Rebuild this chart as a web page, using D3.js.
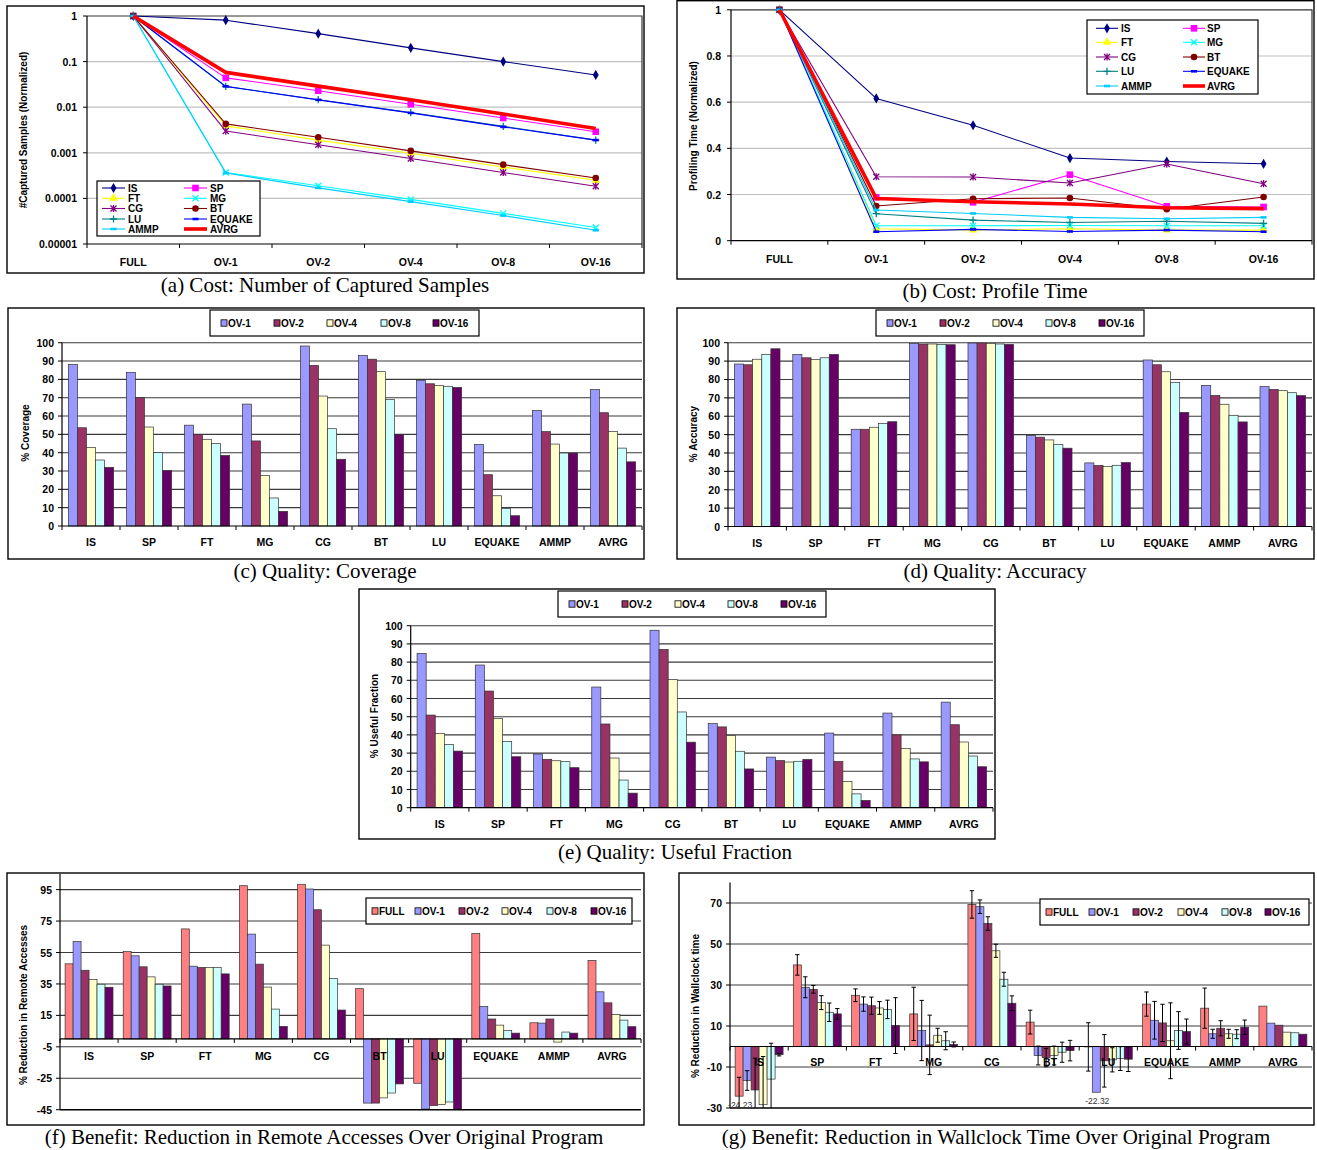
<!DOCTYPE html>
<html>
<head>
<meta charset="utf-8">
<script src="https://cdn.jsdelivr.net/npm/d3@7/dist/d3.min.js"></script>
<style>
  body { margin: 0; background: #fff; }
  svg text { font-family: "Liberation Sans", Arial, sans-serif; }
</style>
</head>
<body>
<script>
// ================= DATA =================
const stages = ["FULL", "OV-1", "OV-2", "OV-4", "OV-8", "OV-16"];
const benchmarks = ["IS", "SP", "FT", "MG", "CG", "BT", "LU", "EQUAKE", "AMMP", "AVRG"];
const ovLevels = ["OV-1", "OV-2", "OV-4", "OV-8", "OV-16"];
const benefitLevels = ["FULL", "OV-1", "OV-2", "OV-4", "OV-8", "OV-16"];

// (a) captured samples (normalized), rows = benchmarks, cols = stages
const capturedSamples = [
  [1, 0.81, 0.41, 0.2, 0.1, 0.051],
  [1, 0.044, 0.023, 0.0116, 0.0058, 0.0029],
  [1, 0.0039, 0.0019, 0.00098, 0.00049, 0.00025],
  [1, 0.00037, 0.00019, 0.000095, 0.000047, 0.000023],
  [1, 0.003, 0.0015, 0.00075, 0.00037, 0.000185],
  [1, 0.0043, 0.0022, 0.0011, 0.00055, 0.00028],
  [1, 0.0285, 0.0146, 0.0076, 0.0038, 0.0019],
  [1, 0.0286, 0.0145, 0.0075, 0.0037, 0.0019],
  [1, 0.00036, 0.00017, 0.000085, 0.000042, 0.00002],
  [1, 0.058, 0.029, 0.0145, 0.0071, 0.0034]
];
const sampleTickValues = [1, 0.1, 0.01, 0.001, 0.0001, 0.00001];
const sampleTickLabels = ["1", "0.1", "0.01", "0.001", "0.0001", "0.00001"];

// (b) profiling time (normalized)
const profileTime = [
  [1, 0.616, 0.50, 0.358, 0.343, 0.333],
  [1, 0.188, 0.166, 0.286, 0.149, 0.146],
  [1, 0.052, 0.046, 0.052, 0.046, 0.046],
  [1, 0.065, 0.065, 0.066, 0.065, 0.065],
  [1, 0.277, 0.276, 0.25, 0.332, 0.247],
  [1, 0.15, 0.182, 0.185, 0.136, 0.189],
  [1, 0.117, 0.089, 0.079, 0.084, 0.075],
  [1, 0.039, 0.049, 0.04, 0.046, 0.039],
  [1, 0.133, 0.118, 0.101, 0.095, 0.101],
  [1, 0.183, 0.169, 0.159, 0.143, 0.139]
];
const profileTickValues = [0, 0.2, 0.4, 0.6, 0.8, 1];
const profileTickLabels = ["0", "0.2", "0.4", "0.6", "0.8", "1"];

// (c) coverage %, rows = benchmarks, cols = ovLevels
const coverage = [
  [88.2, 53.6, 42.9, 36, 32],
  [83.8, 70, 54, 40, 30.2],
  [55, 50, 47.3, 45, 38.5],
  [66.5, 46.4, 27.6, 15.3, 8],
  [98.2, 87.6, 70.9, 53.1, 36.4],
  [93, 91, 84.2, 69, 50],
  [79.5, 77.6, 76.7, 76.2, 75.6],
  [44.5, 28, 16.5, 9.6, 5.6],
  [63, 51.5, 44.7, 39.8, 39.8],
  [74.4, 61.8, 51.5, 42.5, 35]
];
// (d) accuracy %
const accuracy = [
  [88.4, 88, 91, 93.5, 96.7],
  [93.6, 91.8, 90.8, 91.8, 93.6],
  [52.9, 52.9, 54, 56, 57],
  [99.6, 99.3, 99.3, 99.1, 98.9],
  [99.8, 99.8, 99.6, 99.3, 99.1],
  [49.5, 48.6, 47.1, 44.7, 42.6],
  [34.6, 33.2, 32.6, 33.3, 34.8],
  [90.6, 88, 84.2, 78.3, 62.1],
  [76.8, 71.3, 66.5, 60.5, 56.9],
  [76.1, 74.6, 73.9, 72.8, 71.2]
];
// (e) useful fraction %
const usefulFraction = [
  [84.8, 50.9, 40.8, 34.8, 31.1],
  [78.4, 64.1, 49.1, 36.4, 28],
  [29.5, 26.6, 25.8, 25.3, 22],
  [66.3, 46, 27.3, 15.2, 8],
  [97.5, 87, 70.4, 52.6, 36],
  [46.2, 44.4, 39.6, 31, 21.3],
  [27.8, 25.9, 25.1, 25.5, 26.5],
  [41, 25.4, 14.4, 7.6, 4],
  [52, 40, 32.6, 26.8, 25.2],
  [58, 45.6, 36.1, 28.4, 22.5]
];
const pctTickValues = [0, 10, 20, 30, 40, 50, 60, 70, 80, 90, 100];

// (f) reduction in remote accesses %, cols = benefitLevels
const remoteReduction = [
  [47.8, 62, 43.7, 37.8, 34.8, 32.9],
  [55.6, 52.9, 45.9, 39.5, 34.8, 33.7],
  [70, 46.3, 45.5, 45.5, 45.5, 41.4],
  [97.5, 66.7, 47.6, 33, 19, 8],
  [98.4, 95.4, 82.2, 59.7, 38.4, 18.4],
  [32, -40.8, -40.8, -37.5, -34.4, -28.6],
  [-28.2, -44.6, -42.4, -41.6, -40.1, -44.6],
  [67, 20.7, 12.7, 8.8, 5.4, 3.7],
  [10.3, 10.1, 12.7, -2, 4.4, 3.7],
  [50, 30, 23, 15.6, 12, 7.8]
];
const remoteTickValues = [-45, -25, -5, 15, 35, 55, 75, 95];

// (g) reduction in wallclock time %, with error bars
const wallclockReduction = [
  [-24.23, -16.6, -21.2, -28.4, -15.9, -4.0],
  [39.8, 28.9, 27.9, 21.4, 16.7, 15.9],
  [25, 20.7, 19.9, 18.8, 18.1, 10.2],
  [15.9, 7.8, 0.8, 5.5, 2.8, 1.0],
  [69.3, 68.2, 60, 46.7, 32.8, 21.1],
  [11.9, -4.4, -5.4, -4.4, -2.8, -2.0],
  [-0.2, -22.32, -7, -6.5, -5.9, -6.2],
  [20.7, 12.8, 11.5, 2.8, 7.8, 7.3],
  [18.7, 6.2, 8.9, 6.2, 6.0, 9.4],
  [19.7, 11.4, 10.4, 7.0, 6.7, 6.0]
];
const wallclockError = [
  [9.2, 4.8, 15.5, 23.5, 17.5, 0.6],
  [5, 5.1, 1.9, 3.4, 4.5, 2.6],
  [3.1, 3.5, 4.2, 3.1, 4.5, 13.6],
  [13, 14.7, 14.5, 3.4, 4.4, 1.2],
  [6.7, 3.3, 3.3, 3.2, 3.4, 3.6],
  [5.8, 4.6, 4.5, 4.6, 4.9, 5.0],
  [11.8, 0, 12.8, 5.9, 5.8, 6.0],
  [5.9, 9.2, 9.1, 18.5, 9.2, 6.1],
  [9.8, 2.2, 3.7, 2.2, 2.2, 3.5],
  [0, 0, 0, 0, 0, 0]
];
const wallclockTickValues = [-30, -10, 10, 30, 50, 70];
const wallclockLabelled = [["IS", "FULL"], ["LU", "OV-1"]];

// ================= STYLES =================
const lineColors = ["#000080", "#FF00FF", "#FFFF00", "#00FFFF", "#800080", "#800000", "#008080", "#0000FF", "#00CCFF", "#FF0000"];
const lineMarkers = ["diamond", "square", "triangle", "x", "star", "circle", "plus", "dash", "dash", "none"];
const levelColors = { "FULL": "#FF8080", "OV-1": "#9999FF", "OV-2": "#993366", "OV-4": "#FFFFCC", "OV-8": "#CCFFFF", "OV-16": "#660066" };
const SERIF = '"Liberation Serif", "Times New Roman", serif';
const fmt2 = d3.formatLocale({ decimal: ".", thousands: ",", grouping: [3], currency: ["", ""], minus: "-" }).format(".2f");

const svg = d3.select("body").append("svg").attr("width", 1317).attr("height", 1150);

function frame(x0, y0, x1, y1) {
  svg.append("rect").attr("x", x0).attr("y", y0).attr("width", x1 - x0).attr("height", y1 - y0)
    .attr("fill", "none").attr("stroke", "#000").attr("stroke-width", 1.4);
}
function caption(text, x, y) {
  svg.append("text").attr("x", x).attr("y", y).attr("text-anchor", "middle").attr("dominant-baseline", "central")
    .style("font-family", SERIF).attr("font-size", 21).text(text);
}
function yTitle(text, x, y) {
  svg.append("text").attr("transform", `translate(${x},${y}) rotate(-90)`).attr("text-anchor", "middle")
    .attr("dominant-baseline", "central").attr("font-weight", "bold").attr("font-size", 10).text(text);
}
function label(g, text, x, y, anchor, size) {
  return g.append("text").attr("x", x).attr("y", y).attr("text-anchor", anchor).attr("dominant-baseline", "central")
    .attr("font-weight", "bold").attr("font-size", size || 10.5).text(text);
}

function drawMarker(g, type, cx, cy, color) {
  const t = `translate(${cx},${cy})`;
  if (type === "diamond") g.append("path").attr("d", d3.symbol(d3.symbolDiamond, 30)()).attr("transform", t).attr("fill", color);
  else if (type === "square") g.append("rect").attr("x", cx - 3.3).attr("y", cy - 3.3).attr("width", 6.6).attr("height", 6.6).attr("fill", color);
  else if (type === "triangle") g.append("path").attr("d", d3.symbol(d3.symbolTriangle, 32)()).attr("transform", t).attr("fill", color);
  else if (type === "x") g.append("path").attr("d", "M-3,-3L3,3M-3,3L3,-3").attr("transform", t).attr("stroke", color).attr("stroke-width", 1.3);
  else if (type === "star") g.append("path").attr("d", "M-3,-3L3,3M-3,3L3,-3M0,-3.6V3.6").attr("transform", t).attr("stroke", color).attr("stroke-width", 1.3);
  else if (type === "circle") g.append("circle").attr("cx", cx).attr("cy", cy).attr("r", 3.3).attr("fill", color);
  else if (type === "plus") g.append("path").attr("d", "M-3.6,0H3.6M0,-3.6V3.6").attr("transform", t).attr("stroke", color).attr("stroke-width", 1.3);
  else if (type === "dash") g.append("rect").attr("x", cx - 3).attr("y", cy - 1.3).attr("width", 6).attr("height", 2.6).attr("fill", color);
}

// ================= LINE CHART =================
function lineChart(c) {
  const g = svg.append("g");
  const x = d3.scaleBand().domain(stages).range([c.x0, c.x1]);
  const y = c.y;
  const yb = y.range()[0], yt = y.range()[1];
  c.tickValues.forEach(v => {
    const yy = y(v);
    if (Math.abs(yy - yb) < 0.5 || Math.abs(yy - yt) < 0.5) return;
    g.append("line").attr("x1", c.x0).attr("x2", c.x1).attr("y1", yy).attr("y2", yy).attr("stroke", "#c0c0c0").attr("stroke-width", 1.2);
  });
  g.append("path").attr("d", `M${c.x0},${yt}H${c.x1}V${yb}`).attr("fill", "none").attr("stroke", "#333").attr("stroke-width", 1.2);
  // axes
  g.append("line").attr("x1", c.x0).attr("x2", c.x0).attr("y1", yt).attr("y2", yb).attr("stroke", "#000").attr("stroke-width", 1.2);
  g.append("line").attr("x1", c.x0).attr("x2", c.x1).attr("y1", yb).attr("y2", yb).attr("stroke", "#000").attr("stroke-width", 1.2);
  c.tickValues.forEach((v, i) => {
    g.append("line").attr("x1", c.x0 - 4).attr("x2", c.x0).attr("y1", y(v)).attr("y2", y(v)).attr("stroke", "#000");
    label(g, c.tickLabels[i], c.x0 - 10, y(v), "end");
  });
  stages.forEach((s, i) => {
    g.append("line").attr("x1", x(s)).attr("x2", x(s)).attr("y1", yb).attr("y2", yb + 4).attr("stroke", "#000");
    label(g, s, x(s) + x.bandwidth() / 2, yb + c.labelDy, "middle");
  });
  g.append("line").attr("x1", c.x1).attr("x2", c.x1).attr("y1", yb).attr("y2", yb + 4).attr("stroke", "#000");
  // series
  const line = d3.line().x((d, i) => x(stages[i]) + x.bandwidth() / 2).y(d => y(d));
  c.data.forEach((row, k) => {
    const isAvg = benchmarks[k] === "AVRG";
    g.append("path").attr("d", line(row)).attr("fill", "none").attr("stroke", lineColors[k])
      .attr("stroke-width", isAvg ? 3.6 : 1.1).attr("stroke-linejoin", "round");
    row.forEach((v, i) => drawMarker(g, lineMarkers[k], x(stages[i]) + x.bandwidth() / 2, y(v), lineColors[k]));
  });
  // legend
  const L = c.legend;
  g.append("rect").attr("x", L.x0).attr("y", L.y0).attr("width", L.x1 - L.x0).attr("height", L.y1 - L.y0)
    .attr("fill", "#fff").attr("stroke", "#000").attr("stroke-width", 1.2);
  benchmarks.forEach((b, k) => {
    const col = k % 2, row = Math.floor(k / 2);
    const lx = L.lineX[col], ly = L.rowY[row];
    g.append("line").attr("x1", lx).attr("x2", lx + L.len).attr("y1", ly).attr("y2", ly).attr("stroke", lineColors[k])
      .attr("stroke-width", b === "AVRG" ? 3.6 : 1.1);
    drawMarker(g, lineMarkers[k], lx + L.len / 2, ly, lineColors[k]);
    label(g, b, L.textX[col], ly, "start", 10);
  });
}

// ================= BAR CHART =================
function barChart(c) {
  const g = svg.append("g");
  const x = d3.scaleBand().domain(benchmarks).range([c.x0, c.x1]);
  const xi = d3.scaleBand().domain(c.series).range([0, x.bandwidth()]).paddingOuter(c.pad);
  const y = d3.scaleLinear().domain(c.domain).range([c.yb, c.yt]);
  const y0 = y(0);
  c.grid.forEach(v => {
    g.append("line").attr("x1", c.x0).attr("x2", c.x1).attr("y1", y(v)).attr("y2", y(v))
      .attr("stroke", c.gridColor || "#3a3a3a").attr("stroke-width", c.gridWidth || 1.1);
  });
  // bars
  c.values.forEach((row, i) => {
    row.forEach((v, j) => {
      const s = c.series[j];
      g.append("rect").attr("x", x(benchmarks[i]) + xi(s)).attr("width", xi.bandwidth())
        .attr("y", Math.min(y(v), y0)).attr("height", Math.abs(y(v) - y0))
        .attr("fill", levelColors[s]).attr("stroke", "#333").attr("stroke-width", 0.7);
    });
  });
  // error bars
  if (c.errors) {
    const [lo, hi] = [c.yt, c.yb];
    c.values.forEach((row, i) => {
      row.forEach((v, j) => {
        const e = c.errors[i][j];
        if (!e) return;
        const cx = x(benchmarks[i]) + xi(c.series[j]) + xi.bandwidth() / 2;
        const ya = Math.max(lo, y(v + e)), yb2 = Math.min(hi, y(v - e));
        g.append("line").attr("x1", cx).attr("x2", cx).attr("y1", ya).attr("y2", yb2).attr("stroke", "#000").attr("stroke-width", 1);
        if (y(v + e) >= lo) g.append("line").attr("x1", cx - 2.2).attr("x2", cx + 2.2).attr("y1", ya).attr("y2", ya).attr("stroke", "#000").attr("stroke-width", 1);
        if (y(v - e) <= hi) g.append("line").attr("x1", cx - 2.2).attr("x2", cx + 2.2).attr("y1", yb2).attr("y2", yb2).attr("stroke", "#000").attr("stroke-width", 1);
      });
    });
  }
  // bottom line (if zero is not the bottom)
  if (Math.abs(y0 - c.yb) > 1) {
    g.append("line").attr("x1", c.x0).attr("x2", c.x1).attr("y1", c.yb).attr("y2", c.yb).attr("stroke", "#000").attr("stroke-width", 1.4);
  }
  // zero axis
  g.append("line").attr("x1", c.x0).attr("x2", c.x1).attr("y1", y0).attr("y2", y0).attr("stroke", "#000").attr("stroke-width", 1.2);
  benchmarks.forEach(b => {
    g.append("line").attr("x1", x(b)).attr("x2", x(b)).attr("y1", y0).attr("y2", y0 + 4).attr("stroke", "#000");
  });
  g.append("line").attr("x1", c.x1).attr("x2", c.x1).attr("y1", y0).attr("y2", y0 + 4).attr("stroke", "#000");
  // left axis
  g.append("line").attr("x1", c.x0).attr("x2", c.x0).attr("y1", c.yt).attr("y2", c.yb).attr("stroke", "#000").attr("stroke-width", 1.2);
  c.ticks.forEach(v => {
    g.append("line").attr("x1", c.x0 - 4).attr("x2", c.x0).attr("y1", y(v)).attr("y2", y(v)).attr("stroke", "#000");
    label(g, String(v), c.x0 - 8, y(v), "end");
  });
  // category labels (on top of bars)
  benchmarks.forEach(b => label(g, b, x(b) + x.bandwidth() / 2, y0 + c.labelDy, "middle"));
  // data labels
  if (c.dataLabels) {
    c.dataLabels.forEach(([b, s]) => {
      const i = benchmarks.indexOf(b), j = c.series.indexOf(s);
      const v = c.values[i][j];
      g.append("text").attr("x", x(b) + xi(s) + xi.bandwidth() / 2 + 1).attr("y", y(v) + 9)
        .attr("text-anchor", "middle").attr("dominant-baseline", "central").attr("font-size", 8.5).attr("fill", "#333")
        .text(fmt2(v));
    });
  }
  // legend
  const L = c.legend;
  g.append("rect").attr("x", L.x0).attr("y", L.y0).attr("width", L.x1 - L.x0).attr("height", L.y1 - L.y0)
    .attr("fill", "#fff").attr("stroke", "#000").attr("stroke-width", 1.2);
  const ly = (L.y0 + L.y1) / 2;
  c.series.forEach((s, j) => {
    g.append("rect").attr("x", L.sx[j]).attr("y", ly - 3.2).attr("width", 6).attr("height", 6.4)
      .attr("fill", levelColors[s]).attr("stroke", "#000").attr("stroke-width", 0.8);
    label(g, s, L.sx[j] + 7, ly, "start", 10);
  });
}

// ================= PANELS =================
// (a)
frame(7, 6, 644, 273);
lineChart({
  x0: 87, x1: 642,
  y: d3.scaleLog().domain([0.00001, 1]).range([244, 16]),
  tickValues: sampleTickValues, tickLabels: sampleTickLabels,
  data: capturedSamples, labelDy: 18,
  legend: { x0: 97, y0: 181, x1: 260, y1: 236, rowY: [188, 198.3, 208.5, 219, 229], lineX: [102, 184], len: 23, textX: [128, 210] }
});
yTitle("#Captured Samples (Normalized)", 23.5, 130);
caption("(a) Cost: Number of Captured Samples", 325, 285);

// (b)
frame(677, 0.7, 1314, 279);
lineChart({
  x0: 731, x1: 1312,
  y: d3.scaleLinear().domain([0, 1]).range([240.7, 9.8]),
  tickValues: profileTickValues, tickLabels: profileTickLabels,
  data: profileTime, labelDy: 18.5,
  legend: { x0: 1087, y0: 20, x1: 1258, y1: 94, rowY: [28.3, 42.3, 57, 71.3, 86], lineX: [1096, 1183], len: 22, textX: [1121, 1207] }
});
yTitle("Profiling Time (Normalized)", 693.5, 126);
caption("(b) Cost: Profile Time", 995, 291);

// (c)
frame(8, 308, 644, 559);
barChart({
  x0: 62, x1: 642, yb: 526, yt: 342.7, domain: [0, 100], pad: 0.7,
  series: ovLevels, values: coverage, grid: pctTickValues.slice(1), ticks: pctTickValues, labelDy: 16,
  legend: { x0: 210, y0: 310, x1: 479, y1: 336, sx: [221, 274, 327, 381, 433] }
});
yTitle("% Coverage", 25.5, 433);
caption("(c) Quality: Coverage", 325, 571);

// (d)
frame(677, 308, 1314, 559);
barChart({
  x0: 728, x1: 1312, yb: 526.5, yt: 342.7, domain: [0, 100], pad: 0.7,
  series: ovLevels, values: accuracy, grid: pctTickValues.slice(1), ticks: pctTickValues, labelDy: 16,
  legend: { x0: 876, y0: 310, x1: 1144, y1: 336, sx: [887, 940, 993, 1046, 1099] }
});
yTitle("% Accuracy", 693.5, 434);
caption("(d) Quality: Accuracy", 995, 571);

// (e)
frame(359, 589, 995, 839);
barChart({
  x0: 410.7, x1: 993, yb: 807.7, yt: 625.7, domain: [0, 100], pad: 0.7,
  series: ovLevels, values: usefulFraction, grid: pctTickValues.slice(1), ticks: pctTickValues, labelDy: 16,
  legend: { x0: 558, y0: 591, x1: 826, y1: 617, sx: [569, 622, 675, 728, 781] }
});
yTitle("% Useful Fraction", 374, 716);
caption("(e) Quality: Useful Fraction", 675, 852);

// (f)
frame(7, 873, 644, 1125);
barChart({
  x0: 60, x1: 641, yb: 1109.7, yt: 873.9, domain: [-45, 105], pad: 0.64,
  series: benefitLevels, values: remoteReduction, grid: remoteTickValues.slice(1), ticks: remoteTickValues, labelDy: 16.7,
  legend: { x0: 366, y0: 898, x1: 632, y1: 924, sx: [372, 415, 459, 502, 547, 591] }
});
yTitle("% Reduction in Remote Accesses", 23.5, 1005);
caption("(f) Benefit: Reduction in Remote Accesses Over Original Program", 324, 1137);

// (g)
frame(679, 873, 1314, 1125);
barChart({
  x0: 730, x1: 1312, yb: 1108, yt: 882.5, domain: [-30, 80], pad: 0.64,
  series: benefitLevels, values: wallclockReduction, errors: wallclockError,
  grid: wallclockTickValues.slice(1), ticks: wallclockTickValues, labelDy: 15,
  dataLabels: wallclockLabelled,
  legend: { x0: 1040, y0: 899, x1: 1309, y1: 925, sx: [1046, 1089, 1133, 1178, 1222, 1265] }
});
yTitle("% Reduction in Wallclock time", 695.5, 1006);
caption("(g) Benefit: Reduction in Wallclock Time Over Original Program", 996, 1137);
</script>
</body>
</html>
